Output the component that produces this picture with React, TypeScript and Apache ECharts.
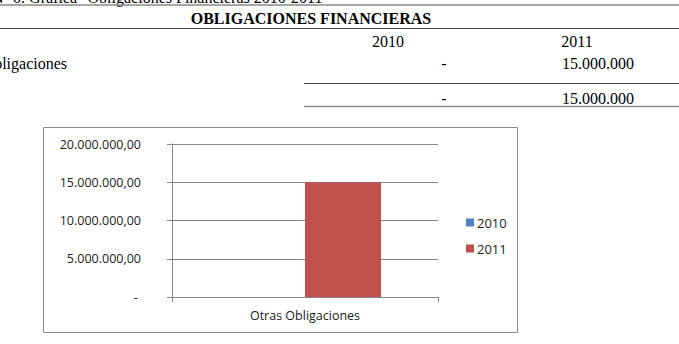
import React, { useEffect, useRef } from "react";
import * as echarts from "echarts";

const categories = ["Otras Obligaciones"];
const seriesNames = ["2010", "2011"];
const values2010 = [0];
const values2011 = [15000000];
const yTicks = [0, 5000000, 10000000, 15000000, 20000000];
const tableTitle = "OBLIGACIONES FINANCIERAS";
const captionText = "Gráfico Nº 6: Gráfica \"Obligaciones Financieras 2010-2011\"";
const tableRowLabel = "Otras Obligaciones";
const tableRow2010 = "-";
const tableRow2011 = "15.000.000";
const tableTotal2010 = "-";
const tableTotal2011 = "15.000.000";

const fmt = (v: number) => {
  if (v === 0) return "- ";
  const s = Math.round(v).toString().replace(/\B(?=(\d{3})+(?!\d))/g, ".");
  return s + ",00";
};

export default function App() {
  const ref = useRef<HTMLDivElement>(null);
  useEffect(() => {
    if (!ref.current) return;
    const chart = echarts.init(ref.current, null, { renderer: "svg" });
    const serif = '"Liberation Serif", "Times New Roman", serif';
    const sans = '"Open Sans", sans-serif';
    const txt = (text: string, x: number, y: number, opts: any = {}) => ({
      type: "text",
      x,
      y,
      silent: true,
      style: {
        text,
        font: opts.font || `16px ${serif}`,
        fill: opts.fill || "#000",
        align: opts.align || "center",
        verticalAlign: "middle",
      },
    });
    const ln = (x1: number, y1: number, x2: number, y2: number, stroke: string, w = 1) => ({
      type: "line",
      silent: true,
      shape: { x1, y1, x2, y2 },
      style: { stroke, lineWidth: w },
    });
    chart.setOption({
      animation: false,
      backgroundColor: "#fff",
      textStyle: { fontFamily: sans },
      grid: { left: 172, right: 241, top: 144, bottom: 47, containLabel: false },
      legend: {
        orient: "vertical",
        left: 461,
        top: 211,
        icon: "rect",
        itemWidth: 8,
        itemHeight: 8,
        itemGap: 13,
        textStyle: { fontFamily: sans, fontSize: 13, color: "#222", padding: [0, 0, 0, -2] },
        data: seriesNames,
      },
      xAxis: {
        type: "category",
        data: categories,
        axisLine: { show: true, lineStyle: { color: "#868686", width: 1 } },
        axisTick: { show: true, length: 5, lineStyle: { color: "#868686" } },
        axisLabel: { fontFamily: sans, fontSize: 12.5, color: "#222", margin: 12 },
        splitLine: { show: false },
      },
      yAxis: {
        type: "value",
        min: yTicks[0],
        max: yTicks[yTicks.length - 1],
        interval: yTicks[1] - yTicks[0],
        axisLine: { show: true, lineStyle: { color: "#868686", width: 1 } },
        axisTick: { show: true, length: 5, lineStyle: { color: "#868686" } },
        axisLabel: { fontFamily: sans, fontSize: 12.5, color: "#222", margin: 31, formatter: fmt },
        splitLine: { show: true, lineStyle: { color: "#868686", width: 1 } },
      },
      series: [
        {
          name: seriesNames[0],
          type: "bar",
          data: values2010,
          barWidth: 76,
          barGap: "0%",
          itemStyle: { color: "#4F81BD" },
        },
        {
          name: seriesNames[1],
          type: "bar",
          data: values2011,
          barWidth: 76,
          barGap: "0%",
          itemStyle: { color: "#C0504D" },
        },
      ],
      graphic: [
        txt(captionText, 329, -2.5, { align: "right" }),
        ln(0, 5, 679, 5, "#8a8a8a", 1.5),
        txt(tableTitle, 311, 18, { font: `bold 16px ${serif}` }),
        ln(0, 28.5, 679, 28.5, "#444", 1.2),
        txt(seriesNames[0], 388, 41),
        txt(seriesNames[1], 577, 41),
        txt(tableRowLabel, 67, 63, { align: "right" }),
        txt(tableRow2010, 444, 63),
        txt(tableRow2011, 598, 63),
        ln(304, 83.5, 679, 83.5, "#444", 1.2),
        txt(tableTotal2010, 444, 98),
        txt(tableTotal2011, 598, 98),
        ln(304, 106.5, 679, 106.5, "#888", 1.5),
        {
          type: "rect",
          silent: true,
          shape: { x: 43.5, y: 127.5, width: 474, height: 205 },
          style: { fill: "none", stroke: "#8c8c8c", lineWidth: 1 },
          z: -1,
        },
      ],
    });
    return () => chart.dispose();
  }, []);
  return (
    <div
      ref={ref}
      style={{ position: "absolute", left: 0, top: 0, width: 679, height: 344 }}
    />
  );
}
